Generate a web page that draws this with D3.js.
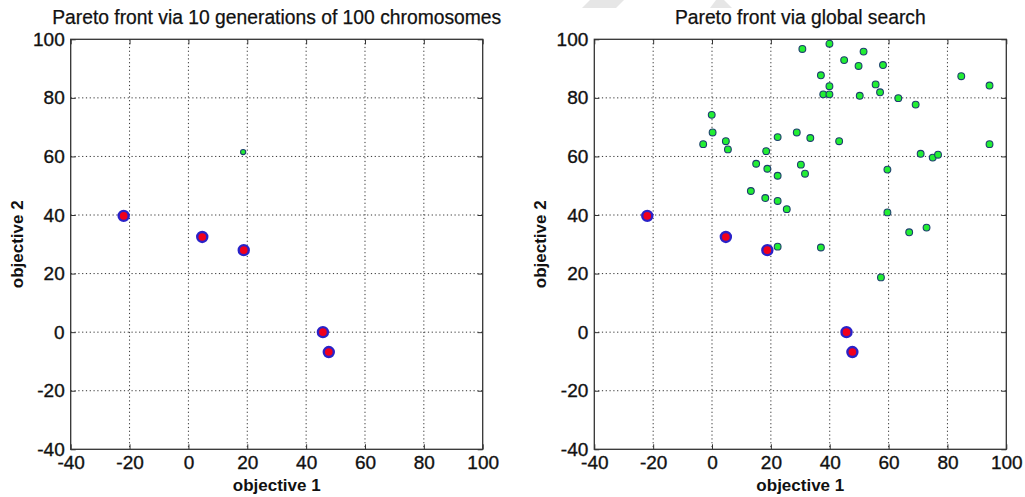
<!DOCTYPE html>
<html><head><meta charset="utf-8">
<script src="https://cdn.jsdelivr.net/npm/d3@7"></script>
<style>
html,body{margin:0;padding:0;background:#fff;}
svg{display:block;}
text{font-family:"Liberation Sans",Arial,Helvetica,sans-serif;fill:#111;}
</style></head><body>
<svg id="chart" width="1025" height="497"></svg>
<script>
// ---- data ----
const xTicks = [-40, -20, 0, 20, 40, 60, 80, 100];
const yTicks = [-40, -20, 0, 20, 40, 60, 80, 100];
const titles = ["Pareto front via 10 generations of 100 chromosomes", "Pareto front via global search"];
const xLabel = "objective 1";
const yLabel = "objective 2";

// Pareto front (red markers), same in both panels
const paretoX = [-22, 4.7, 18.8, 45.7, 47.7];
const paretoY = [39.7, 32.5, 28.0, 0.0, -6.8];

// left panel: other chromosomes (green)
const gaX = [18.6];
const gaY = [61.5];

// right panel: global search candidates (green)
const gsX = [30.7, 39.9, 44.9, 51.5, 49.8, 58.1, 37.0, 39.9, 37.8, 39.9, 50.2, 55.6, 57.1, 63.3, 69.2, 84.7, 94.3, 94.3,
             -0.1, 0.2, -3.0, 4.7, 5.4, 22.3, 28.8, 33.4, 43.2, 18.4, 15.0, 18.8, 22.3, 30.2, 31.6, 13.2, 18.1, 22.3, 25.4,
             59.6, 70.9, 75.0, 76.8, 59.6, 67.0, 72.9, 22.3, 37.0, 57.4];
const gsY = [96.7, 98.5, 92.9, 95.8, 90.9, 91.2, 87.7, 84.0, 81.2, 81.2, 80.7, 84.6, 81.9, 79.9, 77.7, 87.4, 84.2, 64.2,
             74.2, 68.2, 64.2, 65.2, 62.4, 66.6, 68.2, 66.3, 65.2, 61.8, 57.5, 55.8, 53.4, 57.2, 54.1, 48.2, 45.8, 44.8, 42.0,
             55.5, 60.9, 59.6, 60.6, 40.9, 34.1, 35.7, 29.2, 28.9, 18.7];

// ---- drawing ----
const svg = d3.select("#chart");

// faint watermark shapes near top
svg.append("polygon").attr("points", "582,8 590,0 624,0 616,8").attr("fill", "#e6e6e6");
svg.append("polygon").attr("points", "710,8 716,0 724,0 732,8").attr("fill", "#e6e6e6");

const panels = [
  {left: 70.7, title: titles[0], gx: gaX, gy: gaY, gr: 2.6},
  {left: 594.3, title: titles[1], gx: gsX, gy: gsY, gr: 3.4}
];
const plotTop = 39.3, plotW = 412, plotH = 410;
const fmt = d => String(d);

panels.forEach(p => {
  const g = svg.append("g").attr("transform", `translate(${p.left},${plotTop})`);
  const x = d3.scaleLinear().domain([-40, 100]).range([0, plotW]);
  const y = d3.scaleLinear().domain([-40, 100]).range([plotH, 0]);

  // grid
  g.append("g").selectAll("line").data(xTicks.slice(1, -1)).join("line")
    .attr("x1", d => x(d)).attr("x2", d => x(d)).attr("y1", 0).attr("y2", plotH)
    .attr("stroke", "#333").attr("stroke-width", 1).attr("stroke-dasharray", "1.2,2.6");
  g.append("g").selectAll("line").data(yTicks.slice(1, -1)).join("line")
    .attr("y1", d => y(d)).attr("y2", d => y(d)).attr("x1", 0).attr("x2", plotW)
    .attr("stroke", "#333").attr("stroke-width", 1).attr("stroke-dasharray", "1.2,2.6");

  // axes (ticks inward)
  const tl = 5;
  const ax = g.append("g").attr("transform", `translate(0,${plotH})`)
    .call(d3.axisBottom(x).tickValues(xTicks).tickFormat(fmt).tickSizeInner(-tl).tickSizeOuter(0).tickPadding(8));
  const ay = g.append("g")
    .call(d3.axisLeft(y).tickValues(yTicks).tickFormat(fmt).tickSizeInner(-tl).tickSizeOuter(0).tickPadding(6));
  g.append("g").call(d3.axisTop(x).tickValues(xTicks).tickSizeInner(-tl).tickSizeOuter(0).tickFormat(""));
  g.append("g").attr("transform", `translate(${plotW},0)`)
    .call(d3.axisRight(y).tickValues(yTicks).tickSizeInner(-tl).tickSizeOuter(0).tickFormat(""));
  g.selectAll(".domain").remove();
  g.selectAll(".tick line").attr("stroke", "#333").attr("stroke-width", 1);
  [ax, ay].forEach(a => a.selectAll("text")
    .attr("font-size", "19px").attr("font-family", "'Liberation Sans',Arial,sans-serif")
    .attr("fill", "#111").attr("stroke", "#111").attr("stroke-width", 0.35));
  ax.selectAll(".tick text").attr("y", 2).attr("dy", "0.95em");

  // frame
  g.append("rect").attr("x", 0).attr("y", 0).attr("width", plotW).attr("height", plotH)
    .attr("fill", "none").attr("stroke", "#333").attr("stroke-width", 1.3);

  // green points
  g.append("g").selectAll("circle").data(p.gx.map((v, i) => [v, p.gy[i]])).join("circle")
    .attr("cx", d => x(d[0])).attr("cy", d => y(d[1])).attr("r", p.gr)
    .attr("fill", "#22ee33").attr("stroke", "#1d3f6e").attr("stroke-width", 1.1);

  // pareto points
  g.append("g").selectAll("circle").data(paretoX.map((v, i) => [v, paretoY[i]])).join("circle")
    .attr("cx", d => x(d[0])).attr("cy", d => y(d[1])).attr("r", 5)
    .attr("fill", "#f0001c").attr("stroke", "#2a22c8").attr("stroke-width", 2.4);

  // title
  g.append("text").attr("x", plotW / 2).attr("y", -15).attr("text-anchor", "middle")
    .attr("font-size", "19.3px").attr("stroke", "#111").attr("stroke-width", 0.25).text(p.title);
  // x label
  g.append("text").attr("x", plotW / 2).attr("y", plotH + 41.3).attr("text-anchor", "middle")
    .attr("font-size", "17px").attr("font-weight", "bold").text(xLabel);
  // y label
  g.append("text").attr("transform", `translate(-48,${plotH / 2}) rotate(-90)`).attr("text-anchor", "middle")
    .attr("font-size", "17px").attr("font-weight", "bold").text(yLabel);
});
</script>
</body></html>
